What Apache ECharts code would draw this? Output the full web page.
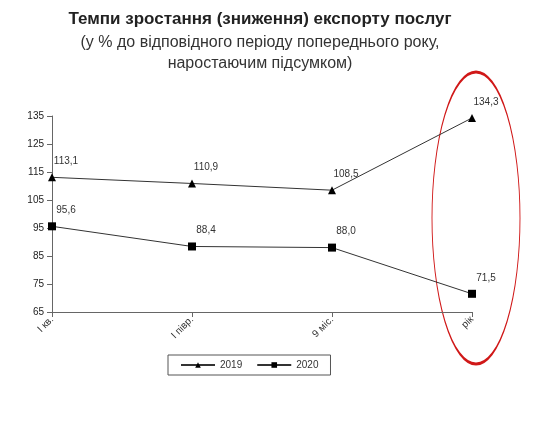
<!DOCTYPE html>
<html><head><meta charset="utf-8">
<script src="https://cdn.jsdelivr.net/npm/echarts@6/dist/echarts.min.js"></script>
<style>html,body{margin:0;background:#fff}#c{width:550px;height:428px}</style>
</head><body><div id="c"></div>
<script>
const categories = ['І кв.', 'І півр.', '9 міс.', 'рік'];
const s2019 = [113.1, 110.9, 108.5, 134.3];
const s2020 = [95.6, 88.4, 88.0, 71.5];
const yTicks = [65, 75, 85, 95, 105, 115, 125, 135];
const fmt = p => p.value.toFixed(1).replace('.', ',');
const chart = echarts.init(document.getElementById('c'));
chart.setOption({
  animation: false,
  title: {
    text: 'Темпи зростання (зниження) експорту послуг',
    subtext: '(у % до відповідного періоду попереднього року,\nнаростаючим підсумком)',
    left: 255, textAlign: 'center', top: 6, itemGap: 4,
    textStyle: {fontFamily: 'Liberation Sans', fontSize: 17, fontWeight: 'bold', color: '#222'},
    subtextStyle: {fontFamily: 'Liberation Sans', fontSize: 16, color: '#333', lineHeight: 21, align: 'center'}
  },
  grid: {left: 52, right: 78, top: 116, bottom: 116},
  legend: {
    bottom: 53, left: 168, itemWidth: 34, itemHeight: 7, itemGap: 14,
    borderColor: '#555', borderWidth: 1, padding: [5, 12], borderRadius: 0,
    textStyle: {fontFamily: 'Liberation Sans', fontSize: 10, color: '#333'},
    data: ['2019', '2020']
  },
  xAxis: {
    type: 'category', data: categories, boundaryGap: false,
    axisLine: {lineStyle: {color: '#666'}},
    axisTick: {alignWithLabel: true, lineStyle: {color: '#666'}},
    axisLabel: {rotate: 45, fontFamily: 'Liberation Sans', fontSize: 10, color: '#333', margin: 6}
  },
  yAxis: {
    type: 'value', min: yTicks[0], max: yTicks[yTicks.length-1], interval: 10,
    splitLine: {show: false},
    axisLine: {show: true, lineStyle: {color: '#666'}},
    axisTick: {show: true, lineStyle: {color: '#666'}},
    axisLabel: {fontFamily: 'Liberation Sans', fontSize: 10, color: '#222'}
  },
  series: [
    {name: '2019', type: 'line', data: s2019, symbol: 'triangle', symbolSize: 8,
     lineStyle: {color: '#333', width: 1}, itemStyle: {color: '#000'},
     label: {show: true, position: 'top', formatter: fmt, fontFamily: 'Liberation Sans', fontSize: 10, color: '#333', offset: [14, -2]}},
    {name: '2020', type: 'line', data: s2020, symbol: 'rect', symbolSize: 8,
     lineStyle: {color: '#333', width: 1}, itemStyle: {color: '#000'},
     label: {show: true, position: 'top', formatter: fmt, fontFamily: 'Liberation Sans', fontSize: 10, color: '#333', offset: [14, -2]}}
  ],
  graphic: [{
    type: 'circle', x: 476, y: 218, scaleX: 44/146, scaleY: 1,
    shape: {cx: 0, cy: 0, r: 146}, silent: true,
    style: {fill: 'none', stroke: '#d01818', lineWidth: 3, strokeNoScale: true}
  }]
});
</script></body></html>
